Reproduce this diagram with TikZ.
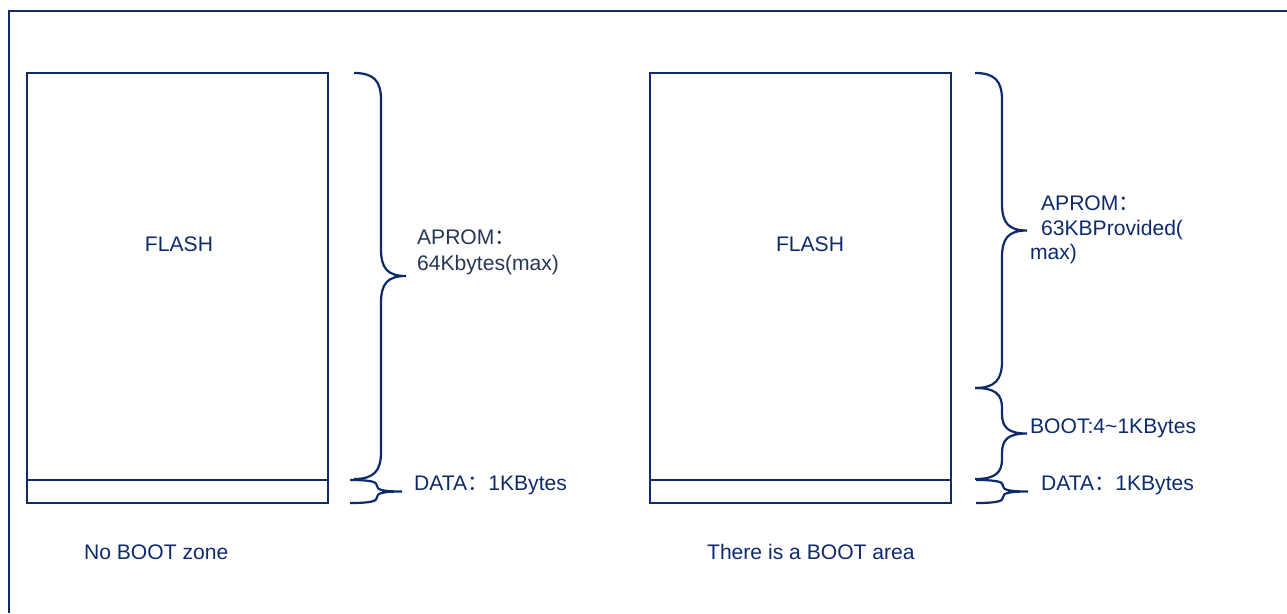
\documentclass[tikz,border=0pt]{standalone}
\usepackage{fontspec}
\setmainfont{Liberation Sans}
\newfontfamily\cjk{Noto Sans CJK SC}
\usetikzlibrary{positioning}

\definecolor{navy}{RGB}{14,42,107}
\definecolor{slate}{RGB}{38,54,84}

% curly brace: x of the two ends, top, bottom, curl height
\newcommand{\zonebrace}[4]{%
  \draw (#1,#2) .. controls (#1+20,#2) and (#1+27,#2+0.3*#4) .. (#1+27,#2+#4)
    -- (#1+27,{(#2+#3)/2-#4}) .. controls (#1+27,{(#2+#3)/2-0.3*#4}) and (#1+33,{(#2+#3)/2}) .. (#1+52,{(#2+#3)/2})
    .. controls (#1+33,{(#2+#3)/2}) and (#1+27,{(#2+#3)/2+0.3*#4}) .. (#1+27,{(#2+#3)/2+#4})
    -- (#1+27,#3-#4) .. controls (#1+27,#3-0.3*#4) and (#1+20,#3) .. (#1,#3);}

\begin{document}
\begin{tikzpicture}[x=1pt,y=-1pt]
\tikzstyle{every path}=[color=navy, line width=2.2pt]
\tikzstyle{block}=[draw=navy, line width=2.2pt, minimum width=301pt, inner sep=0pt, outer sep=0pt]
\tikzset{label/.style={text=navy, inner sep=0pt, anchor=base west, font=\fontsize{21.1}{24}\selectfont}}
\useasboundingbox (0,0) rectangle (1287,613);
% outer frame
\draw (9,613) -- (9,11) -- (1287,11);
% no boot zone
\node [block, minimum height=407pt, anchor=north west] (FLASHL) at (27,73) {};
\node [block, minimum height=23pt, below=0pt of FLASHL] (DATAL) {};
\node [label, anchor=center] (FLASHLTXT) at (179,244.5) {FLASH};
\zonebrace{354}{73}{479}{27}
\zonebrace{350}{480}{503}{5.5}
\node [label, text=slate] (APROML) at (416,244) {APROM{\cjk ：}};
\node [label, text=slate] (APROML2) at (416,270) {64Kbytes(max)};
\node [label] (DATALTXT) at (413,490) {DATA{\cjk ：}1KBytes};
\node [label] (NOBOOT) at (83,559) {No BOOT zone};
% boot area
\node [block, minimum height=407pt, right=322pt of FLASHL] (FLASHR) {};
\node [block, minimum height=23pt, below=0pt of FLASHR] (DATAR) {};
\node [label, anchor=center] (FLASHRTXT) at (810,244.5) {FLASH};
\zonebrace{975}{73}{388}{27}
\zonebrace{975}{388}{479}{20}
\zonebrace{976}{480}{503}{5.5}
\node [label] (APROMR) at (1040,210) {APROM{\cjk ：}};
\node [label] (APROMR2) at (1040,235) {63KBProvided(};
\node [label] (APROMR3) at (1029,259) {max)};
\node [label] (BOOTR) at (1029,433) {BOOT:4\textasciitilde 1KBytes};
\node [label] (DATARTXT) at (1040,490) {DATA{\cjk ：}1KBytes};
\node [label] (BOOTAREA) at (706,559) {There is a BOOT area};
\end{tikzpicture}
\end{document}
